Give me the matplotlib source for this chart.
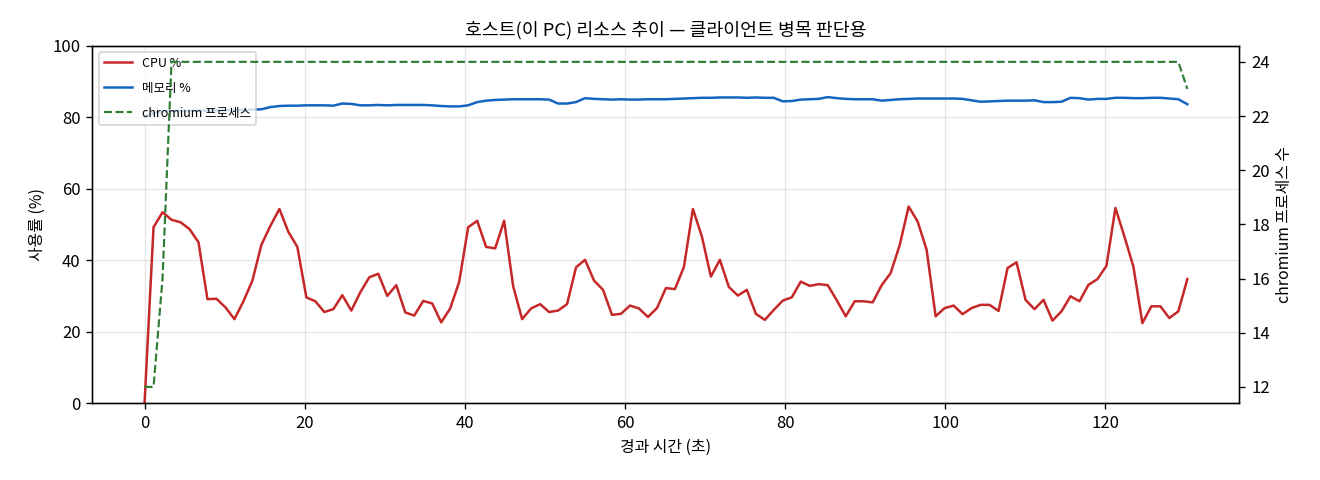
import numpy as np
import matplotlib
matplotlib.use('Agg')
from matplotlib import pyplot as plt

plt.rcParams['font.family'] = ['Noto Sans CJK KR', 'DejaVu Sans']
plt.rcParams['axes.unicode_minus'] = False

# 샘플 간격 (초)
sample_dt = 1.1226

cpu = [0.0, 49.2, 53.4, 51.3, 50.6, 48.7, 45.0, 29.1, 29.2, 26.8,
       23.5, 28.5, 34.3, 44.3, 49.6, 54.3, 47.9, 43.7, 29.6, 28.5,
       25.5, 26.3, 30.2, 25.9, 31.0, 35.2, 36.2, 30.0, 33.0, 25.4,
       24.5, 28.6, 27.9, 22.6, 26.5, 33.9, 49.2, 51.0, 43.7, 43.3,
       51.0, 32.8, 23.5, 26.5, 27.7, 25.5, 25.9, 27.7, 38.0, 40.1,
       34.3, 31.7, 24.7, 25.0, 27.3, 26.5, 24.1, 26.6, 32.2, 31.9,
       38.1, 54.3, 46.6, 35.4, 40.1, 32.5, 30.1, 31.7, 25.0, 23.3,
       26.1, 28.7, 29.6, 34.0, 32.8, 33.3, 33.0, 28.8, 24.3, 28.5,
       28.5, 28.2, 33.0, 36.4, 44.2, 55.0, 50.8, 42.9, 24.3, 26.6,
       27.3, 24.9, 26.6, 27.5, 27.5, 25.8, 37.8, 39.4, 28.9, 26.3,
       28.9, 23.1, 25.7, 29.9, 28.5, 33.1, 34.7, 38.4, 54.6, 46.6,
       38.2, 22.4, 27.1, 27.1, 23.8, 25.7, 34.7]

mem = [80.0, 81.2, 81.6, 81.7, 81.7, 81.8, 81.8, 81.8, 81.9, 81.9,
       82.0, 82.0, 82.1, 82.2, 82.8, 83.1, 83.2, 83.2, 83.3, 83.3,
       83.3, 83.2, 83.8, 83.7, 83.3, 83.3, 83.4, 83.3, 83.4, 83.4,
       83.4, 83.4, 83.3, 83.1, 83.0, 83.0, 83.3, 84.2, 84.6, 84.8,
       84.9, 85.0, 85.0, 85.0, 85.0, 84.9, 83.8, 83.8, 84.2, 85.3,
       85.1, 85.0, 84.9, 85.0, 84.9, 84.9, 85.0, 85.0, 85.0, 85.1,
       85.2, 85.3, 85.4, 85.4, 85.5, 85.5, 85.5, 85.4, 85.5, 85.4,
       85.4, 84.4, 84.5, 84.9, 85.0, 85.1, 85.6, 85.3, 85.1, 85.0,
       85.0, 85.0, 84.6, 84.8, 85.0, 85.1, 85.2, 85.2, 85.2, 85.2,
       85.2, 85.1, 84.7, 84.3, 84.4, 84.5, 84.6, 84.6, 84.6, 84.7,
       84.2, 84.2, 84.3, 85.4, 85.3, 84.9, 85.1, 85.1, 85.4, 85.4,
       85.3, 85.3, 85.4, 85.4, 85.2, 85.0, 83.6]

chromium = [12, 12, 16] + [24] * 113 + [23]

t = np.arange(len(cpu)) * sample_dt

fig, ax1 = plt.subplots(figsize=(11, 4), dpi=120)
ax2 = ax1.twinx()

l1, = ax1.plot(t, cpu, color='#c62828', lw=1.5, label='CPU %')
l2, = ax1.plot(t, mem, color='#1565c0', lw=1.5, label='메모리 %')
l3, = ax2.plot(t, chromium, color='#2e7d32', lw=1.3, ls='--', label='chromium 프로세스')

ax1.set_ylim(0, 100)
ax1.set_xlabel('경과 시간 (초)', fontsize=9.5)
ax1.set_ylabel('사용률 (%)', fontsize=9.5)
ax2.set_ylabel('chromium 프로세스 수', fontsize=9.5)
ax1.grid(True, alpha=0.3)
ax1.set_title('호스트(이 PC) 리소스 추이 — 클라이언트 병목 판단용', fontsize=11)

ax1.legend(handles=[l1, l2, l3], loc='upper left', fontsize=7.5,
           labelspacing=0.95, handlelength=2.3)

plt.subplots_adjust(left=0.07, right=0.939, top=0.905, bottom=0.16)
plt.savefig('out.png')
